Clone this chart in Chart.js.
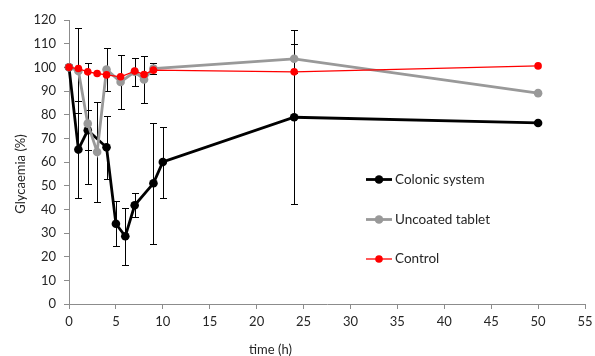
<!DOCTYPE html>
<html>
<head>
<meta charset="utf-8">
<script src="https://cdn.jsdelivr.net/npm/chart.js@4.4.0/dist/chart.umd.min.js"></script>
<style>
html,body{margin:0;padding:0;background:#fff;}
#wrap{width:595px;height:356px;position:relative;}
</style>
</head>
<body>
<div id="wrap"><canvas id="c" width="595" height="356"></canvas></div>
<script>
// ---- data ----
const xTicks = [0, 5, 10, 15, 20, 25, 30, 35, 40, 45, 50, 55];
const yTicks = [0, 10, 20, 30, 40, 50, 60, 70, 80, 90, 100, 110, 120];

const colonicTimes  = [0, 1, 2, 4, 5, 6, 7, 9, 10, 24, 50];
const colonicValues = [100, 65.3, 73.4, 66.2, 33.9, 28.6, 41.7, 51.0, 60.0, 78.9, 76.5];
const colonicErrors = [0, 20.5, 8.5, 13.3, 9.5, 12.0, 5.0, 25.6, 15.0, 36.7, 0];

const uncoatedTimes  = [0, 1, 2, 3, 4, 5.5, 7, 8, 9, 24, 50];
const uncoatedValues = [100, 98.5, 76.2, 64.2, 99.1, 93.8, 98.1, 94.9, 99.5, 103.6, 89.1];
const uncoatedErrors = [0, 18.0, 25.5, 21.0, 8.9, 11.3, 6.0, 10.0, 2.2, 6.2, 0];

const controlTimes  = [0, 1, 2, 3, 4, 5.5, 7, 8, 9, 24, 50];
const controlValues = [100, 99.5, 98.1, 97.4, 96.8, 96.0, 98.4, 97.0, 98.8, 98.1, 100.6];

const seriesNames = ['Colonic system', 'Uncoated tablet', 'Control'];
const xTitle = 'time (h)';
const yTitle = 'Glycaemia (%)';

// ---- build ----
const pts = (t, v) => t.map((x, i) => ({x: x, y: v[i]}));
const FONT = 'Lato, "Open Sans", sans-serif';
const AXIS = '#8c8c8c';
const TXT = '#262626';

const errorBars = {
  id: 'errorBars',
  beforeDatasetDraw(chart, args) {
    const ds = chart.data.datasets[args.index];
    if (!ds.errors) return;
    const ctx = chart.ctx, xs = chart.scales.x, ys = chart.scales.y;
    ctx.save();
    ctx.strokeStyle = '#000';
    ctx.lineWidth = 1;
    ds.data.forEach((p, i) => {
      const e = ds.errors[i];
      if (!e) return;
      const px = Math.round(xs.getPixelForValue(p.x)) + 0.5;
      const yt = Math.round(ys.getPixelForValue(p.y + e)) + 0.5;
      const yb = Math.round(ys.getPixelForValue(p.y - e)) + 0.5;
      ctx.beginPath();
      ctx.moveTo(px, yt); ctx.lineTo(px, yb);
      ctx.moveTo(px - 3.5, yt); ctx.lineTo(px + 3.5, yt);
      ctx.moveTo(px - 3.5, yb); ctx.lineTo(px + 3.5, yb);
      ctx.stroke();
    });
    ctx.restore();
  }
};

const extras = {
  id: 'extras',
  afterDraw(chart) {
    const ctx = chart.ctx;
    const ds = chart.data.datasets;
    ctx.save();
    // axis titles
    ctx.fillStyle = TXT;
    ctx.font = '13px ' + FONT;
    ctx.textAlign = 'center';
    ctx.textBaseline = 'middle';
    ctx.fillText(xTitle, 270.5, 350);
    ctx.save();
    ctx.translate(21, 174);
    ctx.rotate(-Math.PI / 2);
    ctx.fillText(yTitle, 0, 0);
    ctx.restore();
    // legend
    const rows = [179.5, 219.5, 259];
    ctx.font = '13.5px ' + FONT;
    ctx.textAlign = 'left';
    rows.forEach((ry, i) => {
      const d = ds[i];
      ctx.strokeStyle = d.borderColor;
      ctx.lineWidth = d.borderWidth;
      ctx.beginPath();
      ctx.moveTo(366, ry); ctx.lineTo(392, ry);
      ctx.stroke();
      ctx.fillStyle = d.pointBackgroundColor;
      ctx.beginPath();
      ctx.arc(379, ry, d.pointRadius, 0, Math.PI * 2);
      ctx.fill();
      ctx.fillStyle = TXT;
      ctx.fillText(seriesNames[i], 395, ry);
    });
    ctx.restore();
  }
};

new Chart(document.getElementById('c'), {
  type: 'line',
  data: {
    datasets: [
      {
        label: seriesNames[0], data: pts(colonicTimes, colonicValues), errors: colonicErrors,
        borderColor: '#000', backgroundColor: '#000', pointBackgroundColor: '#000', pointBorderColor: '#000',
        borderWidth: 2.8, pointRadius: 4.3, pointBorderWidth: 0, tension: 0, order: 2, clip: false
      },
      {
        label: seriesNames[1], data: pts(uncoatedTimes, uncoatedValues), errors: uncoatedErrors,
        borderColor: '#999999', backgroundColor: '#999999', pointBackgroundColor: '#999999', pointBorderColor: '#999999',
        borderWidth: 2.8, pointRadius: 4.3, pointBorderWidth: 0, tension: 0, order: 1, clip: false
      },
      {
        label: seriesNames[2], data: pts(controlTimes, controlValues),
        borderColor: '#ff0000', backgroundColor: '#ff0000', pointBackgroundColor: '#ff0000', pointBorderColor: '#ff0000',
        borderWidth: 1.3, pointRadius: 3.8, pointBorderWidth: 0, tension: 0, order: 0, clip: false
      }
    ]
  },
  options: {
    responsive: false,
    animation: false,
    devicePixelRatio: 1,
    layout: { padding: { left: 0, right: 10, top: 20, bottom: 0 } },
    plugins: { legend: { display: false }, tooltip: { enabled: false } },
    scales: {
      x: {
        type: 'linear', min: xTicks[0], max: xTicks[xTicks.length - 1],
        afterBuildTicks(s) { s.ticks = xTicks.map(v => ({value: v})); },
        ticks: { color: TXT, font: { family: FONT, size: 13 }, padding: 5, maxRotation: 0, autoSkip: false },
        grid: { display: true, drawOnChartArea: false, drawTicks: true, tickLength: 5, color: AXIS, lineWidth: 1 },
        border: { color: AXIS, width: 1 },
        afterFit(s) { s.height = 52; s.paddingLeft = 0; s.paddingRight = 0; }
      },
      y: {
        type: 'linear', min: yTicks[0], max: yTicks[yTicks.length - 1],
        afterBuildTicks(s) { s.ticks = yTicks.map(v => ({value: v})); },
        ticks: { color: TXT, font: { family: FONT, size: 13 }, padding: 8, autoSkip: false },
        grid: { display: true, drawOnChartArea: false, drawTicks: true, tickLength: 5, color: AXIS, lineWidth: 1 },
        border: { color: AXIS, width: 1 },
        afterFit(s) { s.width = 69; s.paddingTop = 0; s.paddingBottom = 0; }
      }
    }
  },
  plugins: [errorBars, extras]
});
</script>
</body>
</html>
